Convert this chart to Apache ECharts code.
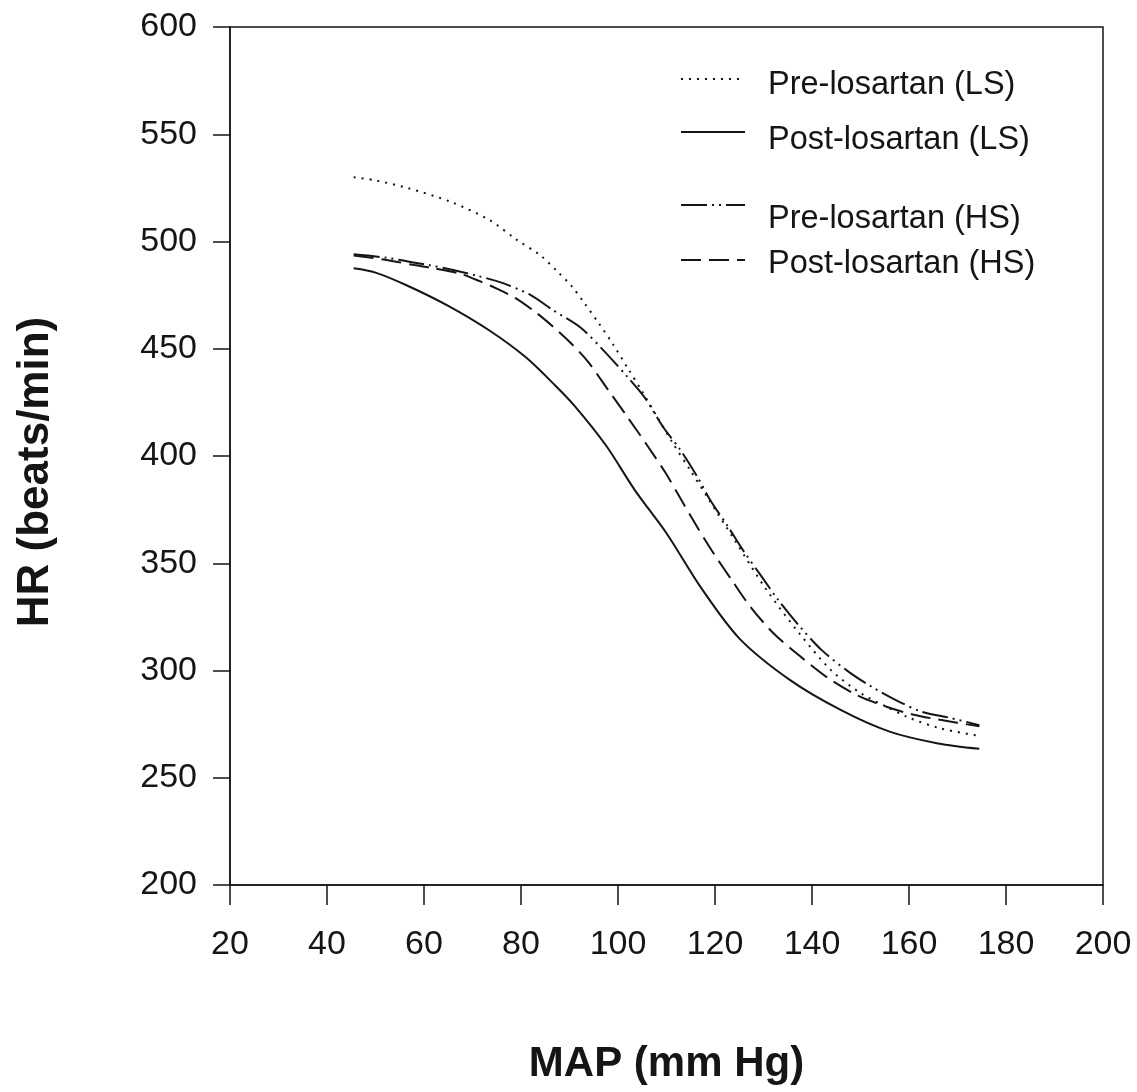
<!DOCTYPE html>
<html>
<head>
<meta charset="utf-8">
<script src="https://cdn.jsdelivr.net/npm/echarts@6/dist/echarts.min.js"></script>
<style>html,body{margin:0;padding:0;background:#fff;}#chart{width:1137px;height:1092px;}</style>
</head>
<body>
<div id="chart"></div>
<script>
// ---- data ----
var seriesNames = ['Pre-losartan (LS)', 'Post-losartan (LS)', 'Pre-losartan (HS)', 'Post-losartan (HS)'];

var mapPreLS = [45.5, 50, 56.5, 65.5, 73.5, 79, 84, 87.5, 90.5, 93, 96, 99, 102, 105, 108, 111.3, 115, 118.5, 124, 130.5, 137.5, 144, 150, 155, 160, 166.5, 174.5];
var hrPreLS  = [530, 528.5, 525, 518.5, 510, 501, 493.5, 486, 479, 471.5, 462, 452, 441, 430, 418.5, 406, 393, 380.5, 361, 338, 317, 300, 289.5, 283.5, 278, 273, 269.5];

var mapPostLS = [45.5, 50, 56.5, 65, 73.5, 81, 87, 91, 97.5, 103.5, 110, 117, 125, 135.5, 146, 156, 166, 174.5];
var hrPostLS  = [487.5, 485.5, 479.5, 470, 458.5, 446, 433, 423.5, 405, 384, 364, 339, 315, 295.5, 281.5, 271.5, 266, 263.5];

var mapPreHS = [45.5, 52, 61, 66, 71, 76.3, 82, 86.6, 92.2, 96.9, 101.9, 105.6, 109.3, 112.8, 116.3, 119, 122.7, 125.8, 129.7, 133, 137.5, 142, 147.8, 152.4, 158.1, 162.7, 168.5, 174.5];
var hrPreHS  = [494, 492.5, 489, 486.7, 484, 480.6, 475, 468, 460, 449.5, 437, 427, 413.5, 403, 390.5, 379.5, 367, 356, 343.5, 333, 320.5, 309.5, 299, 292.3, 285.3, 280.7, 277.9, 274.5];

var mapPostHS = [45.5, 52, 58, 62, 67.4, 71.5, 75, 78.8, 83.3, 86.5, 90.1, 93.8, 97.9, 102, 106, 109.7, 112.8, 116.3, 119.6, 123.5, 127.2, 132, 137.9, 143.3, 149.3, 155.5, 160.8, 166.4, 174.5];
var hrPostHS  = [493.5, 491.5, 489, 487.5, 485, 481.5, 478, 473.7, 466.5, 460.5, 453, 444, 431, 418, 405, 392.5, 380.5, 367, 355, 342, 330, 317.5, 306, 296.5, 288.5, 283, 279.5, 277, 274];

var xTicks = {min: 20, max: 200, interval: 20};
var yTicks = {min: 200, max: 600, interval: 50};

function zip(xs, ys) { return xs.map(function (x, i) { return [x, ys[i]]; }); }

// ---- styling ----
var INK = '#151515';
var FONT = '"Liberation Sans", Arial, Helvetica, sans-serif';
var dashTypes = [[2, 6], 'solid', [26, 5, 2, 5, 2, 5], [20, 8]];
var allData = [zip(mapPreLS, hrPreLS), zip(mapPostLS, hrPostLS), zip(mapPreHS, hrPreHS), zip(mapPostHS, hrPostHS)];

var series = seriesNames.map(function (name, i) {
  return {
    name: name,
    type: 'line',
    data: allData[i],
    symbol: 'none',
    showSymbol: false,
    smooth: 0.3,
    lineStyle: {color: INK, width: 2, type: dashTypes[i]},
    itemStyle: {color: INK},
    emphasis: {disabled: true},
    z: 3
  };
});

// legend placement (one legend per entry, as in the figure); sp = spacer pushing the text below its line
var legendSpec = [
  {top: 56.5, sp: 12},
  {top: 107.5, sp: 16},
  {top: 174.5, sp: 28},
  {top: 239.5, sp: 8}
];
var legends = legendSpec.map(function (s, i) {
  return {
    data: [seriesNames[i]],
    left: 680,
    top: s.top,
    padding: 0,
    itemWidth: 64,
    itemHeight: 14,
    selectedMode: false,
    itemStyle: {opacity: 0, borderWidth: 0},
    lineStyle: {width: 2},
    formatter: function (name) { return '{s| }\n{t|' + name + '}'; },
    textStyle: {
      fontSize: 32.5, fontFamily: FONT, color: INK, padding: [0, 0, 0, 18],
      rich: {
        s: {fontSize: 4, height: s.sp, lineHeight: s.sp},
        t: {fontSize: 32.5, fontFamily: FONT, color: INK}
      }
    }
  };
});

var option = {
  backgroundColor: '#ffffff',
  animation: false,
  legend: legends,
  grid: {left: 230, right: 34, top: 27, bottom: 207, show: true, borderColor: INK, borderWidth: 1.5, backgroundColor: 'transparent'},
  xAxis: {
    type: 'value',
    min: xTicks.min, max: xTicks.max, interval: xTicks.interval,
    axisLine: {show: true, onZero: false, lineStyle: {color: INK, width: 1.5}},
    axisTick: {show: true, inside: false, length: 20, lineStyle: {color: INK, width: 1.5}},
    axisLabel: {fontSize: 34, fontFamily: FONT, color: INK, margin: 43},
    splitLine: {show: false},
    name: 'MAP (mm Hg)',
    nameLocation: 'middle',
    nameGap: 158,
    nameTextStyle: {fontSize: 42, fontWeight: 'bold', fontFamily: FONT, color: INK}
  },
  yAxis: {
    type: 'value',
    min: yTicks.min, max: yTicks.max, interval: yTicks.interval,
    axisLine: {show: true, onZero: false, lineStyle: {color: INK, width: 1.5}},
    axisTick: {show: true, inside: false, length: 17, lineStyle: {color: INK, width: 1.5}},
    axisLabel: {fontSize: 34, fontFamily: FONT, color: INK, margin: 33},
    splitLine: {show: false},
    name: 'HR (beats/min)',
    nameLocation: 'middle',
    nameGap: 172,
    nameTextStyle: {fontSize: 44, fontWeight: 'bold', fontFamily: FONT, color: INK, padding: [0, 32, 0, 0]}
  },
  series: series
};

var chart = echarts.init(document.getElementById('chart'), null, {renderer: 'canvas'});
chart.setOption(option);
</script>
</body>
</html>
